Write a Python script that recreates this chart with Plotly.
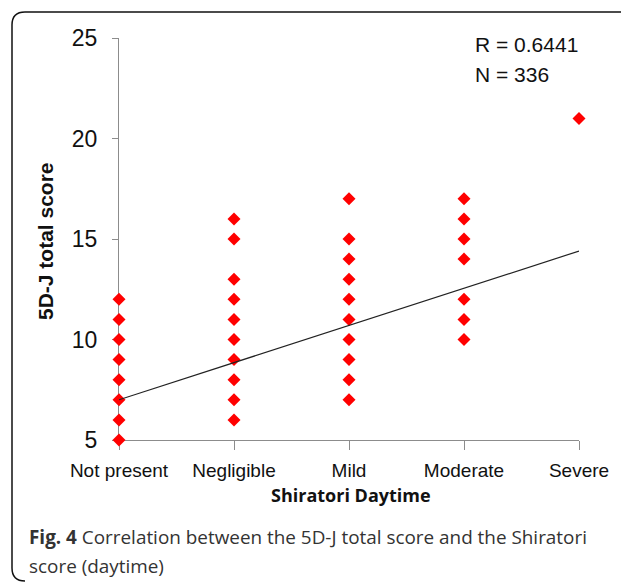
import plotly.graph_objects as go

categories = ["Not present", "Negligible", "Mild", "Moderate", "Severe"]
cat_pos = [1, 2, 3, 4, 5]

not_present = [5, 6, 7, 8, 9, 10, 11, 12]
negligible = [6, 7, 8, 9, 10, 11, 12, 13, 15, 16]
mild = [7, 8, 9, 10, 11, 12, 13, 14, 15, 17]
moderate = [10, 11, 12, 14, 15, 16, 17]
severe = [21]

trend_x = [1, 5]
trend_y = [7.0, 14.4]

y_ticks = [5, 10, 15, 20, 25]

groups = [not_present, negligible, mild, moderate, severe]
xs, ys = [], []
for pos, vals in zip(cat_pos, groups):
    xs += [pos] * len(vals)
    ys += vals

W, H = 621, 582
L, R, T, B = 119, 42, 38, 142
pw, ph = W - L - R, H - T - B

def px(x):
    return (x - L) / pw

def py(y):
    return (H - B - y) / ph

fig = go.Figure()
fig.add_trace(go.Scatter(x=xs, y=ys, mode="markers",
                         marker=dict(symbol="diamond", size=10, color="#ff0000"),
                         cliponaxis=False, showlegend=False))
fig.add_trace(go.Scatter(x=trend_x, y=trend_y, mode="lines",
                         line=dict(color="#222222", width=1.2),
                         hoverinfo="skip", showlegend=False))

axis_gray = "#8c8c8c"
fig.update_xaxes(range=[1, 5], tickvals=cat_pos, ticktext=categories,
                 showgrid=False, zeroline=False, showline=True, linecolor=axis_gray,
                 linewidth=1, ticks="outside", ticklen=9, tickcolor=axis_gray,
                 tickfont=dict(family="Liberation Sans, Arial", size=19, color="#111"),
                 ticklabelstandoff=4, layer="below traces")
fig.update_yaxes(range=[5, 25], tickvals=y_ticks,
                 showgrid=False, zeroline=False, showline=True, linecolor=axis_gray,
                 linewidth=1, ticks="outside", ticklen=6, tickcolor=axis_gray,
                 tickfont=dict(family="Liberation Sans, Arial", size=23, color="#111"),
                 ticklabelstandoff=10, layer="below traces")

# rounded border
x0, yt = px(12), py(12)
xr, yb = px(640), py(581)
rx, ry = 13 / pw, 13 / ph
path = (f"M {x0},{yb + ry} L {x0},{yt - ry} Q {x0},{yt} {x0 + rx},{yt} L {xr},{yt} "
        f"M {x0},{yb + ry} Q {x0},{yb} {x0 + rx},{yb}")
fig.add_shape(type="path", path=path, xref="paper", yref="paper",
              line=dict(color="#111111", width=1.5))

ann = []
ann.append(dict(x=px(45), y=py(241), text="<b>5D-J total score</b>", textangle=-90,
                font=dict(family="Liberation Sans, Arial", size=21, color="#111")))
ann.append(dict(x=px(351), y=py(495), text="<b>Shiratori Daytime</b>",
                font=dict(family="Open Sans", size=18, color="#111")))
ann.append(dict(x=px(473), y=py(45), text="R = 0.6441", xanchor="left",
                font=dict(family="Liberation Sans, Arial", size=21, color="#111")))
ann.append(dict(x=px(473), y=py(74), text="N = 336", xanchor="left",
                font=dict(family="Liberation Sans, Arial", size=21, color="#111")))
ann.append(dict(x=px(27), y=py(537), xanchor="left",
                text="<b>Fig. 4</b> Correlation between the 5D-J total score and the Shiratori",
                font=dict(family="Open Sans", size=18.9, color="#333")))
ann.append(dict(x=px(27), y=py(566), xanchor="left", text="score (daytime)",
                font=dict(family="Open Sans", size=18.9, color="#333")))
for a in ann:
    a.update(xref="paper", yref="paper", showarrow=False)
    a.setdefault("xanchor", "center")
    a.setdefault("yanchor", "middle")
fig.update_layout(annotations=ann)

fig.update_layout(width=W, height=H, margin=dict(l=L, r=R, t=T, b=B),
                  paper_bgcolor="white", plot_bgcolor="white",
                  font=dict(family="Liberation Sans, Arial"))

fig.write_html("out.html", config={"displayModeBar": False},
               post_script="document.body.style.margin='0';document.body.style.overflow='hidden';")
